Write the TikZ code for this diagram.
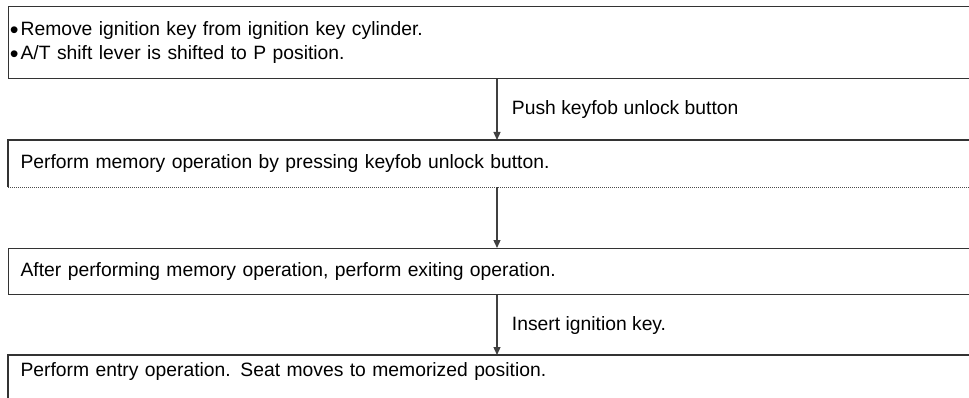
\documentclass[tikz,border=0pt]{standalone}
\usepackage{fontspec}
\setmainfont{Liberation Sans}
\usetikzlibrary{arrows.meta}

\newcommand{\itemdot}{\leavevmode\llap{\raisebox{-2.5pt}{\fontsize{25}{20}\selectfont\textbullet}\hspace{2pt}}}

\begin{document}
\begin{tikzpicture}[x=1pt,y=-1pt,
    stepbox/.style={rectangle,draw=black!80,line width=1.2pt,anchor=north west,
        text width=960pt,align=left,inner xsep=12pt,inner ysep=0pt,
        font={\fontsize{19.3}{24}\selectfont}},
    edge/.style={draw=black!80,line width=1.2pt},
    flow/.style={draw=black!75,line width=1.3pt,-{Triangle[width=7pt,length=8pt]}},
    cue/.style={right,xshift=11pt,font={\fontsize{19.3}{24}\selectfont}}]
\useasboundingbox (0,0) rectangle (969,398);
\clip (0,0) rectangle (969,398);

\coordinate (ax) at (497,0);

\node[stepbox,minimum height=72pt] (init) at (8,6)
    {\itemdot Remove ignition key from ignition key cylinder.\par
     \itemdot A/T shift lever is shifted to P position.};

\node[stepbox,draw=none,minimum height=46pt] (mem) at (8,140)
    {Perform memory operation by pressing keyfob unlock button.};
\draw[edge] (mem.south west) -- (mem.north west) -- (mem.north east);
\draw[draw=black!70,line width=1pt,dash pattern=on 1pt off 1pt] (mem.south west) -- (mem.south east);

\node[stepbox,minimum height=46pt] (exit) at (8,248)
    {After performing memory operation, perform exiting operation.};

\node[stepbox,draw=none,minimum height=32pt] (entry) at (8,355)
    {Perform entry operation. Seat moves to memorized position.};
\draw[edge] ([yshift=-30pt]entry.south west) -- (entry.north west) -- (entry.north east);

\draw[flow] (init.south -| ax) -- (mem.north -| ax) node[midway,cue]{Push keyfob unlock button};
\draw[flow] (mem.south -| ax) -- (exit.north -| ax);
\draw[flow] (exit.south -| ax) -- (entry.north -| ax) node[midway,cue]{Insert ignition key.};

\end{tikzpicture}
\end{document}
